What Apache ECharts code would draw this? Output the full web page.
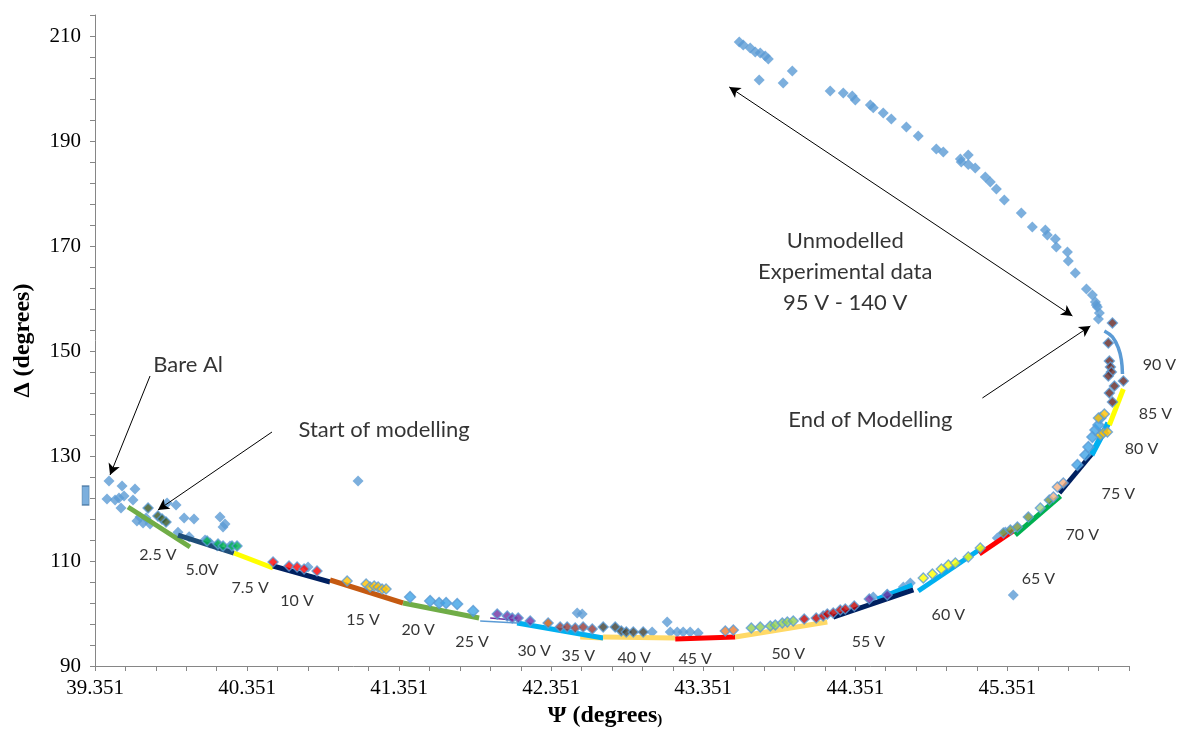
<!DOCTYPE html>
<html>
<head>
<meta charset="utf-8">
<script src="https://cdn.jsdelivr.net/npm/echarts@6/dist/echarts.min.js"></script>
<style>
  html, body { margin: 0; padding: 0; background: #ffffff; }
  #chart { width: 1185px; height: 738px; }
</style>
</head>
<body>
<div id="chart"></div>
<script>
// Ψ (x, degrees) and Δ (y, degrees) ellipsometry trajectory during anodising

// Axis ranges and tick labels
const xRange = [39.351, 46.151];
const yRange = [90, 214];
const xTickLabels = ['39.351', '40.351', '41.351', '42.351', '43.351', '44.351', '45.351'];
const yTickLabels = ['90', '110', '130', '150', '170', '190', '210'];

// Experimental data, 0 V - 90 V
const experimentalLow = [
  [39.443,125.24],[39.529,124.29],[39.614,123.71],[39.430,121.81],[39.483,121.62],[39.509,122.00],
  [39.542,122.38],[39.522,120.10],[39.601,121.62],[39.627,117.62],[39.667,117.24],[39.687,118.19],
  [39.713,117.05],[39.647,118.38],[39.825,121.05],[39.884,120.67],[39.937,118.19],[40.002,118.00],
  [40.173,118.38],[40.206,117.05],[40.193,116.48],[39.897,115.50],[39.970,114.60],[40.075,114.00],
  [40.108,113.43],[40.154,112.86],[40.239,112.86],[41.081,125.24],[40.752,108.86],[42.522,100.10],
  [42.555,99.90],[43.015,96.48],[43.114,98.38],[43.134,96.48],[43.180,96.48],[43.219,96.48],
  [43.265,96.48],[43.318,96.29],[44.469,103.14],[44.561,103.71],[44.667,105.05],[44.713,105.81],
  [45.285,114.38],[45.338,115.52],[45.390,103.52]
];
// Unmodelled experimental data, 95 V - 140 V
const experimentalHigh = [
  [45.950,156.10],[45.956,157.24],[45.943,158.38],[45.936,158.76],[45.930,159.33],[45.910,160.67],
  [45.871,161.81],[45.798,164.86],[45.752,167.14],[45.746,168.86],[45.673,169.81],[45.667,171.33],
  [45.614,172.10],[45.601,173.05],[45.515,173.62],[45.443,176.29],[45.331,178.76],[45.279,180.86],
  [45.239,182.19],[45.206,183.14],[45.140,184.86],[45.094,185.52],[45.094,187.33],[45.048,186.00],
  [45.042,186.57],[44.930,187.90],[44.884,188.48],[44.765,190.95],[44.687,192.67],[44.588,194.19],
  [44.535,195.33],[44.469,196.33],[44.450,196.86],[44.351,197.81],[44.331,198.57],[44.272,199.14],
  [44.186,199.52],[43.937,203.33],[43.877,201.05],[43.719,201.62],[43.779,205.62],[43.759,206.19],
  [43.726,206.76],[43.693,206.95],[43.660,207.71],[43.614,208.29],[43.588,208.86]
];
const experimental20V = [[41.423,103.14],[41.555,102.38],[41.614,102.00],[41.660,102.00],[41.733,101.81],[41.838,100.48]];
const experimental80V = [[45.812,128.29],[45.864,130.19],[45.884,131.71],[45.910,133.62],[45.930,134.95],[45.950,135.90],[45.963,137.24]];
const legendKey = [[39.289,122.48]];

// Modelled points per voltage step
const pts2_5V = [[39.700,120.10],[39.765,118.57],[39.792,118.00],[39.818,117.43]];
const pts5V = [[40.088,113.81],[40.160,113.24],[40.193,112.86],[40.252,112.86],[40.285,112.86]];
const pts10V = [[40.522,109.81],[40.627,109.05],[40.680,108.86],[40.726,108.48],[40.811,108.10]];
const pts15V = [[41.009,106.19],[41.134,105.62],[41.160,105.05],[41.187,105.24],[41.213,105.05],[41.239,104.67],[41.265,104.67]];
const pts25V = [[41.996,99.90],[42.062,99.52],[42.095,99.14],[42.134,99.14],[42.213,98.57]];
const pts30Va = [[42.331,98.19]];
const pts30V = [[42.410,97.43],[42.456,97.43],[42.509,97.24],[42.561,97.43],[42.621,97.05]];
const pts35V = [[42.693,97.43],[42.772,97.43],[42.812,96.67],[42.845,96.48],[42.891,96.48],[42.956,96.48]];
const pts45V = [[43.496,96.67],[43.549,96.86]];
const pts50V = [[43.667,97.24],[43.726,97.43],[43.792,97.62],[43.825,97.81],[43.871,98.19],[43.904,98.38],[43.943,98.57]];
const pts55V = [[44.015,98.95],[44.094,99.14],[44.140,99.52],[44.167,99.90],[44.206,100.10],[44.252,100.67],[44.285,100.86],[44.344,101.43]];
const pts55Vb = [[44.443,102.76],[44.561,103.52]];
const pts60V = [[44.798,106.76],[44.858,107.52],[44.917,108.48],[44.963,109.24],[45.009,109.62],[45.094,110.76],[45.173,112.48]];
const pts70V = [[45.325,115.33],[45.371,115.90],[45.417,116.48],[45.489,118.38],[45.627,121.62]];
const pts70Vb = [[45.568,120.10]];
const pts75V = [[45.654,122.19],[45.680,124.10],[45.719,124.86]];
const pts85V = [[45.950,137.24],[45.989,138.00],[45.963,134.00],[45.983,134.38],[46.009,134.57]];
const pts90V = [[46.042,155.33],[46.015,151.52],[46.022,148.10],[46.029,146.95],[46.035,146.00],[46.015,145.24],[46.114,144.29],[46.055,143.33],[46.022,142.00],[46.042,140.29]];

// Model fit segments per voltage step
const seg2_5V = [[39.568,120.29],[39.976,112.67]];
const seg5V = [[39.897,114.95],[40.265,111.52]];
const seg7_5V = [[40.265,111.52],[40.522,108.67]];
const seg10V = [[40.522,109.05],[40.897,106.00]];
const seg15V = [[40.897,106.38],[41.377,102.00]];
const seg20V = [[41.377,102.00],[41.877,99.14]];
const seg25Va = [[41.884,98.57],[42.127,98.19]];
const seg25Vb = [[41.950,99.14],[42.101,98.76]];
const seg30V = [[42.127,98.19],[42.693,95.33]];
const seg35V = [[42.542,95.52],[42.693,95.33]];
const seg40V = [[42.693,95.52],[43.167,95.33]];
const seg45V = [[43.167,95.14],[43.562,95.52]];
const seg50V = [[43.562,95.52],[44.167,98.38]];
const seg55V = [[44.206,99.33],[44.733,104.48]];
const seg55Vb = [[44.496,102.76],[44.726,105.43]];
const seg60V = [[44.765,104.29],[45.193,112.67]];
const seg65V = [[45.167,111.33],[45.390,115.71]];
const seg70V = [[45.403,114.95],[45.700,122.38]];
const seg75V = [[45.693,122.95],[45.917,130.76]];
const seg80V = [[45.904,130.19],[45.963,133.43],[46.015,136.29]];
const seg85V = [[46.022,135.90],[46.114,142.76]];
const seg90V = [[45.989,153.81],[46.042,152.67],[46.081,150.57],[46.101,148.29],[46.108,145.62]];

// Voltage step labels and their anchors (Ψ, Δ)
const voltageLabels = ['2.5 V','5.0V','7.5 V','10 V','15 V','20 V','25 V','30 V','35 V','40 V',
                       '45 V','50 V','55 V','60 V','65 V','70 V','75 V','80 V','85 V','90 V'];
const voltageAnchors = [[39.765,111.14],[40.055,108.29],[40.371,104.86],[40.680,102.38],[41.114,98.76],
  [41.476,96.86],[41.831,94.57],[42.239,92.86],[42.529,91.90],[42.897,91.52],[43.298,91.33],[43.910,92.29],
  [44.437,94.57],[44.963,99.71],[45.555,106.57],[45.844,114.95],[46.081,122.76],[46.233,131.33],
  [46.325,138.00],[46.351,147.33]];

// Annotations
const noteTexts = ['Bare Al', 'Start of modelling', 'Unmodelled\nExperimental data\n95 V - 140 V', 'End of Modelling'];
const noteAnchors = [[39.963,147.33],[41.252,134.95],[44.285,165.05],[44.450,136.86]];
const arrowFrom = [[39.713,145.24],[40.515,134.57],[43.522,200.29],[45.187,141.05]];
const arrowTo = [[39.450,126.38],[39.765,119.71],[45.779,156.67],[45.897,154.76]];
const arrowBothEnds = [false, false, true, false];

const BLUE = '#5B9BD5';

function segment(data, color, width) {
  return {
    type: 'line', data: data, showSymbol: false, symbol: 'none', z: 3, silent: true,
    smooth: data.length > 2 ? 0.4 : false,
    lineStyle: { color: color, width: width || 5, cap: 'butt' }
  };
}
function points(data, color, size) {
  return {
    type: 'scatter', data: data, symbol: 'diamond', symbolSize: size || 11, z: 4, silent: true,
    itemStyle: { color: color, borderColor: BLUE, borderWidth: 1.4 }
  };
}

const series = [
  { type: 'scatter', data: experimentalLow, symbol: 'diamond', symbolSize: 11, z: 2, silent: true, itemStyle: { color: BLUE } },
  { type: 'scatter', data: experimentalHigh, symbol: 'diamond', symbolSize: 11, z: 2, silent: true, itemStyle: { color: BLUE } },
  { type: 'scatter', data: legendKey, symbol: 'rect', symbolSize: [7, 19], clip: false, z: 2, silent: true,
    itemStyle: { color: BLUE, borderColor: '#41719C', borderWidth: 1 } },
  segment(seg2_5V, '#70AD47'),
  segment(seg5V, '#1F4E79'),
  segment(seg7_5V, '#FFFF00'),
  segment(seg10V, '#002060'),
  segment(seg15V, '#C55A11'),
  segment(seg20V, '#70AD47'),
  segment(seg25Va, BLUE, 1.5),
  segment(seg25Vb, '#7030A0', 1.5),
  segment(seg35V, '#FFD966'),
  segment(seg30V, '#00B0F0'),
  segment(seg40V, '#FFD966'),
  segment(seg45V, '#FF0000'),
  segment(seg50V, '#FFD966'),
  segment(seg55Vb, '#00B0F0'),
  segment(seg55V, '#002060'),
  segment(seg60V, '#00B0F0'),
  segment(seg65V, '#FF0000'),
  segment(seg70V, '#00B050'),
  segment(seg75V, '#002060'),
  segment(seg80V, '#00B0F0', 6),
  segment(seg85V, '#FFFF00'),
  segment(seg90V, BLUE, 3.5),
  points(experimental20V, '#3FA3E6'),
  points(experimental80V, '#3FA3E6'),
  points(pts2_5V, '#375623', 10),
  points(pts5V, '#00B050', 10),
  points(pts10V, '#FF0000', 10),
  points(pts15V, '#FFC000', 10),
  points(pts25V, '#7030A0', 10),
  points(pts30Va, '#C55A11', 10),
  points(pts30V, '#953735', 10),
  points(pts35V, '#3F3F32', 10),
  points(pts45V, '#ED7D31', 10),
  points(pts50V, '#92D050', 10),
  points(pts55V, '#C00000', 10),
  points(pts55Vb, '#7030A0', 10),
  points(pts60V, '#FFFF00', 10),
  points(pts70V, '#77933C', 10),
  points(pts70Vb, '#A9D18E', 10),
  points(pts75V, '#F4B183', 10),
  points(pts85V, '#FFC000', 10),
  points(pts90V, '#632523', 10),
  {
    type: 'scatter', z: 6, silent: true, clip: false, symbolSize: 1,
    itemStyle: { color: 'transparent' },
    data: voltageLabels.map((t, i) => ({ name: t, value: voltageAnchors[i] })),
    label: { show: true, position: 'inside', formatter: '{b}', fontFamily: 'Lato', fontSize: 16, color: '#000' }
  },
  {
    type: 'scatter', z: 6, silent: true, clip: false, symbolSize: 1,
    itemStyle: { color: 'transparent' },
    data: noteTexts.map((t, i) => ({ name: t, value: noteAnchors[i] })),
    label: { show: true, position: 'inside', formatter: '{b}', fontFamily: 'Lato', fontSize: 22,
      lineHeight: 31, align: 'center', color: '#000' },
    markLine: {
      silent: true, animation: false, symbolSize: [9, 11],
      lineStyle: { color: '#000', width: 1, type: 'solid' },
      label: { show: false },
      emphasis: { disabled: true },
      data: arrowFrom.map((p, i) => [
        { coord: p, symbol: arrowBothEnds[i] ? 'arrow' : 'none' },
        { coord: arrowTo[i], symbol: 'arrow' }
      ])
    }
  }
];

const axisGrey = '#868686';
const chart = echarts.init(document.getElementById('chart'), null, { renderer: 'canvas' });
chart.setOption({
  animation: false,
  backgroundColor: '#ffffff',
  grid: { left: 95, right: 56, top: 15, bottom: 72, containLabel: false, outerBoundsMode: 'none' },
  xAxis: {
    type: 'value', min: xRange[0], max: xRange[1], interval: 0.2,
    name: '{a|Ψ (degrees}{b|)}', nameLocation: 'middle', nameGap: 38,
    nameTextStyle: {
      padding: [0, 14, 0, 0],
      rich: {
        a: { fontFamily: 'Liberation Serif', fontWeight: 'bold', fontSize: 24, color: '#000' },
        b: { fontFamily: 'Liberation Serif', fontWeight: 'bold', fontSize: 15, color: '#000', padding: [8, 0, 0, 0] }
      }
    },
    axisLine: { show: true, lineStyle: { color: axisGrey, width: 1 } },
    axisTick: { show: true, length: 5, lineStyle: { color: axisGrey } },
    splitLine: { show: false },
    axisLabel: {
      interval: 0, margin: 12, fontFamily: 'Liberation Serif', fontSize: 21, color: '#000',
      formatter: v => { const s = v.toFixed(3); return xTickLabels.includes(s) ? s : ''; }
    }
  },
  yAxis: {
    type: 'value', min: yRange[0], max: yRange[1], interval: 4,
    name: 'Δ (degrees)', nameLocation: 'middle', nameGap: 60,
    nameTextStyle: { fontFamily: 'Liberation Serif', fontWeight: 'bold', fontSize: 24, color: '#000' },
    axisLine: { show: true, lineStyle: { color: axisGrey, width: 1 } },
    axisTick: { show: true, length: 5, lineStyle: { color: axisGrey } },
    splitLine: { show: false },
    axisLabel: {
      interval: 0, margin: 14, fontFamily: 'Liberation Serif', fontSize: 21, color: '#000',
      formatter: v => { const s = String(Math.round(v)); return yTickLabels.includes(s) ? s : ''; }
    }
  },
  series: series
});
</script>
</body>
</html>
